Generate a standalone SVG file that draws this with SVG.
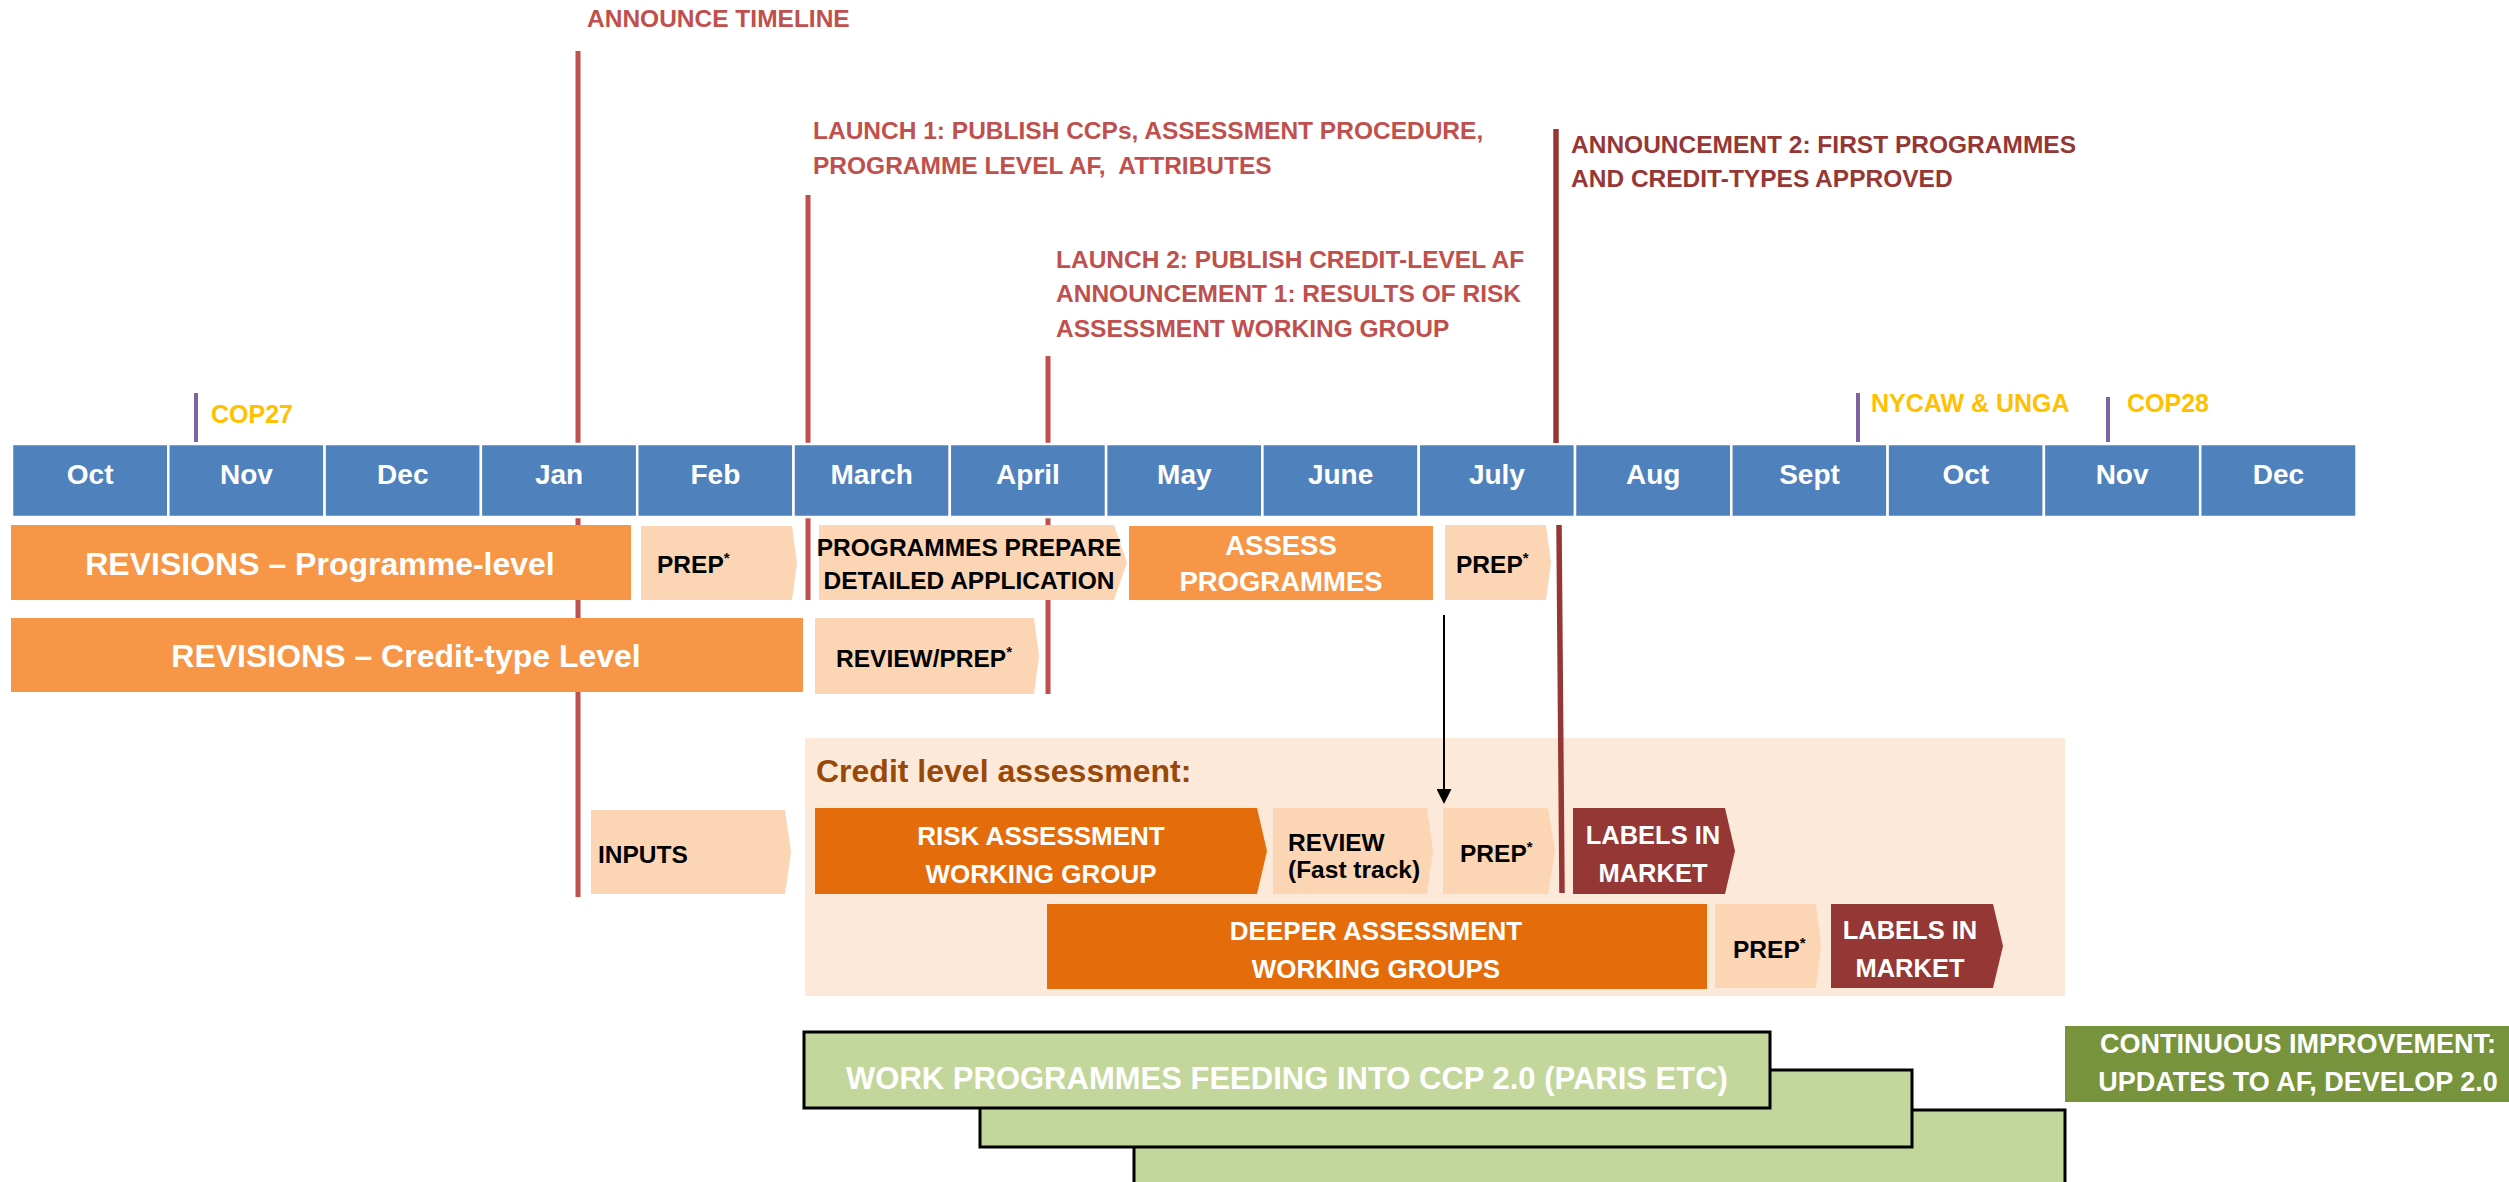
<svg xmlns="http://www.w3.org/2000/svg" width="2509" height="1182" viewBox="0 0 2509 1182">
<style>
text{font-family:"Liberation Sans",Arial,sans-serif;font-weight:bold}
.mo{font-size:28px;fill:#fff;text-anchor:middle}
.mbox{fill:#4F81BD;stroke:#fff;stroke-width:2.5}
.ann{font-size:24.5px;fill:#C0504D}
.ann2{font-size:24.5px;fill:#953735}
.ev{font-size:25px;fill:#FFC000}
.red{stroke:#C0504D;stroke-width:5}
.dred{stroke:#953735;stroke-width:5.5}
.pur{stroke:#8064A2;stroke-width:4}
.or{fill:#F79646}
.dor{fill:#E46C0A}
.pe{fill:#FCD5B5}
.lab{fill:#953735}
.wt{fill:#fff;text-anchor:middle}
.bk{fill:#000;font-size:24.5px}
.gr{fill:#C3D69B;stroke:#000;stroke-width:3}
.sup{font-size:15px}
</style>
<defs>
<marker id="ah" viewBox="0 0 15 15" refX="6" refY="7.5" markerWidth="15" markerHeight="15" markerUnits="userSpaceOnUse" orient="auto"><path d="M0,0 L15,7.5 L0,15 z" fill="#000"/></marker>
</defs>

<g id="markers">
<line class="red" x1="578" y1="51" x2="578" y2="897"/>
<line class="red" x1="808" y1="195" x2="808" y2="600"/>
<line class="red" x1="1048" y1="356" x2="1048" y2="694"/>
<line class="pur" x1="196" y1="393" x2="196" y2="442"/>
<line class="pur" x1="1858" y1="393" x2="1858" y2="442"/>
<line class="pur" x1="2108" y1="397" x2="2108" y2="442"/>
</g>

<g id="annotations">
<text class="ann" x="587" y="27">ANNOUNCE TIMELINE</text>
<text class="ann" x="813" y="139">LAUNCH 1: PUBLISH CCPs, ASSESSMENT PROCEDURE,</text>
<text class="ann" x="813" y="174" xml:space="preserve" style="white-space:pre">PROGRAMME LEVEL AF,  ATTRIBUTES</text>
<text class="ann" x="1056" y="268">LAUNCH 2: PUBLISH CREDIT-LEVEL AF</text>
<text class="ann" x="1056" y="302">ANNOUNCEMENT 1: RESULTS OF RISK</text>
<text class="ann" x="1056" y="337">ASSESSMENT WORKING GROUP</text>
<text class="ann2" x="1571" y="153">ANNOUNCEMENT 2: FIRST PROGRAMMES</text>
<text class="ann2" x="1571" y="187">AND CREDIT-TYPES APPROVED</text>
<text class="ev" x="211" y="423">COP27</text>
<text class="ev" x="1871" y="412">NYCAW &amp; UNGA</text>
<text class="ev" x="2127" y="412">COP28</text>
</g>

<g id="months">
<rect class="mbox" x="12" y="444" width="156.3" height="73"/>
<rect class="mbox" x="168.3" y="444" width="156.3" height="73"/>
<rect class="mbox" x="324.6" y="444" width="156.3" height="73"/>
<rect class="mbox" x="480.9" y="444" width="156.3" height="73"/>
<rect class="mbox" x="637.2" y="444" width="156.3" height="73"/>
<rect class="mbox" x="793.5" y="444" width="156.3" height="73"/>
<rect class="mbox" x="949.8" y="444" width="156.3" height="73"/>
<rect class="mbox" x="1106.1" y="444" width="156.3" height="73"/>
<rect class="mbox" x="1262.4" y="444" width="156.3" height="73"/>
<rect class="mbox" x="1418.7" y="444" width="156.3" height="73"/>
<rect class="mbox" x="1575" y="444" width="156.3" height="73"/>
<rect class="mbox" x="1731.3" y="444" width="156.3" height="73"/>
<rect class="mbox" x="1887.6" y="444" width="156.3" height="73"/>
<rect class="mbox" x="2043.9" y="444" width="156.3" height="73"/>
<rect class="mbox" x="2200.2" y="444" width="156.3" height="73"/>
<text class="mo" x="90.2" y="484">Oct</text>
<text class="mo" x="246.5" y="484">Nov</text>
<text class="mo" x="402.8" y="484">Dec</text>
<text class="mo" x="559.1" y="484">Jan</text>
<text class="mo" x="715.4" y="484">Feb</text>
<text class="mo" x="871.7" y="484">March</text>
<text class="mo" x="1028" y="484">April</text>
<text class="mo" x="1184.3" y="484">May</text>
<text class="mo" x="1340.6" y="484">June</text>
<text class="mo" x="1496.9" y="484">July</text>
<text class="mo" x="1653.2" y="484">Aug</text>
<text class="mo" x="1809.5" y="484">Sept</text>
<text class="mo" x="1965.8" y="484">Oct</text>
<text class="mo" x="2122.1" y="484">Nov</text>
<text class="mo" x="2278.4" y="484">Dec</text>
</g>

<g id="rev-programme">
<rect class="or" x="11" y="525" width="620" height="75"/>
<text class="wt" x="320" y="575" font-size="32">REVISIONS – Programme-level</text>
</g>
<g id="prep-feb">
<polygon class="pe" points="641,526 792,526 797,563 792,600 641,600"/>
<text class="bk" x="657" y="573">PREP<tspan class="sup" dy="-10">*</tspan></text>
</g>
<g id="programmes-prepare">
<polygon class="pe" points="819,525 1114,525 1127,562.5 1114,600 819,600"/>
<text class="bk" x="969" y="556" font-size="21" text-anchor="middle">PROGRAMMES PREPARE</text>
<text class="bk" x="969" y="589" font-size="21" text-anchor="middle">DETAILED APPLICATION</text>
</g>
<g id="assess-programmes">
<rect class="or" x="1129" y="526" width="304" height="74"/>
<text class="wt" x="1281" y="555" font-size="27.5">ASSESS</text>
<text class="wt" x="1281" y="591" font-size="27.5">PROGRAMMES</text>
</g>
<g id="prep-jul">
<polygon class="pe" points="1445,525 1546,525 1551,562.5 1546,600 1445,600"/>
<text class="bk" x="1456" y="573">PREP<tspan class="sup" dy="-10">*</tspan></text>
</g>

<g id="rev-credit">
<rect class="or" x="11" y="618" width="792" height="74"/>
<text class="wt" x="406" y="667" font-size="32">REVISIONS – Credit-type Level</text>
</g>
<g id="review-prep">
<polygon class="pe" points="815,618 1034,618 1039,656 1034,694 815,694"/>
<text class="bk" x="836" y="667">REVIEW/PREP<tspan class="sup" dy="-10">*</tspan></text>
</g>

<g id="credit-panel">
<rect x="805" y="738" width="1260" height="258" fill="#FDE9D9"/>
<text x="816" y="782" font-size="32" fill="#984807">Credit level assessment:</text>
</g>

<g id="inputs">
<polygon class="pe" points="591,810 785,810 791,852 785,894 591,894"/>
<text class="bk" x="598" y="863" font-size="25">INPUTS</text>
</g>
<g id="risk-wg">
<polygon class="dor" points="815,808 1257,808 1267,851 1257,894 815,894"/>
<text class="wt" x="1041" y="845" font-size="26">RISK ASSESSMENT</text>
<text class="wt" x="1041" y="883" font-size="26">WORKING GROUP</text>
</g>
<g id="review-fast">
<polygon class="pe" points="1273,808 1427,808 1433,851 1427,894 1273,894"/>
<text class="bk" x="1288" y="851" font-size="24.5">REVIEW</text>
<text class="bk" x="1288" y="878" font-size="15">(Fast track)</text>
</g>
<g id="prep-risk">
<polygon class="pe" points="1443,808 1548,808 1555,851 1548,894 1443,894"/>
<text class="bk" x="1460" y="862">PREP<tspan class="sup" dy="-10">*</tspan></text>
</g>
<g id="labels-1">
<polygon class="lab" points="1573,808 1725,808 1735,851 1725,894 1573,894"/>
<text class="wt" x="1653" y="844" font-size="25.5">LABELS IN</text>
<text class="wt" x="1653" y="882" font-size="25.5">MARKET</text>
</g>
<g id="deeper-wg">
<rect class="dor" x="1047" y="904" width="660" height="85"/>
<text class="wt" x="1376" y="940" font-size="26">DEEPER ASSESSMENT</text>
<text class="wt" x="1376" y="978" font-size="26">WORKING GROUPS</text>
</g>
<g id="prep-deeper">
<polygon class="pe" points="1715,904 1816,904 1821,946 1816,988 1715,988"/>
<text class="bk" x="1733" y="958">PREP<tspan class="sup" dy="-10">*</tspan></text>
</g>
<g id="labels-2">
<polygon class="lab" points="1831,904 1993,904 2003,946 1993,988 1831,988"/>
<text class="wt" x="1910" y="939" font-size="25.5">LABELS IN</text>
<text class="wt" x="1910" y="977" font-size="25.5">MARKET</text>
</g>

<g id="july-marker">
<line class="dred" x1="1556" y1="129" x2="1556" y2="443"/>
<line class="dred" x1="1559" y1="525" x2="1562" y2="893"/>
</g>

<g id="work-programmes">
<rect class="gr" x="1134" y="1110" width="931" height="80"/>
<rect class="gr" x="980" y="1070" width="932" height="77"/>
<rect class="gr" x="804" y="1032" width="966" height="76"/>
<text class="wt" x="1287" y="1089" font-size="31">WORK PROGRAMMES FEEDING INTO CCP 2.0 (PARIS ETC)</text>
</g>
<g id="continuous-improvement">
<rect x="2065" y="1026" width="444" height="76" fill="#77933C"/>
<text class="wt" x="2298" y="1053" font-size="27">CONTINUOUS IMPROVEMENT:</text>
<text class="wt" x="2298" y="1091" font-size="27">UPDATES TO AF, DEVELOP 2.0</text>
</g>

<g id="connectors">
<line x1="1444" y1="615" x2="1444" y2="795" stroke="#000" stroke-width="2" marker-end="url(#ah)"/>
</g>
</svg>
